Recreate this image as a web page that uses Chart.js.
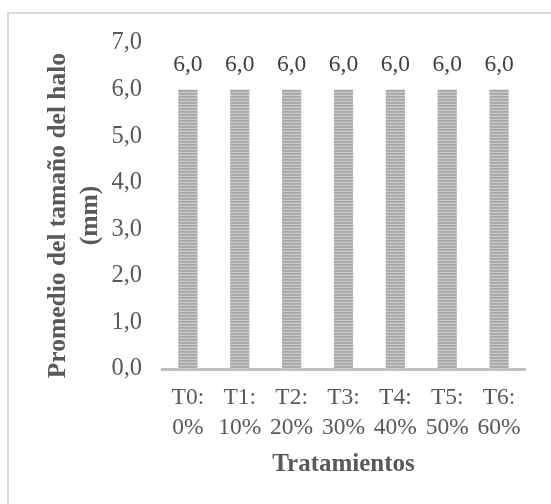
<!DOCTYPE html>
<html>
<head>
<meta charset="utf-8">
<script src="https://cdn.jsdelivr.net/npm/chart.js@4"></script>
<style>
html,body{margin:0;padding:0;background:#fff;}
#wrap{position:relative;width:551px;height:504px;overflow:hidden;}
#frame{position:absolute;left:7px;top:12px;width:600px;height:600px;border:2px solid #d9d9d9;box-sizing:border-box;}
canvas{position:absolute;left:0;top:0;}
</style>
</head>
<body>
<div id="wrap">
<div id="frame"></div>
<canvas id="c" width="551" height="504"></canvas>
</div>
<script>
const categories = [['T0:', '0%'], ['T1:', '10%'], ['T2:', '20%'], ['T3:', '30%'], ['T4:', '40%'], ['T5:', '50%'], ['T6:', '60%']];
const haloValues = [6.0, 6.0, 6.0, 6.0, 6.0, 6.0, 6.0];
const yTickMin = 0;
const yTickMax = 7;
const yTickStep = 1;
const yTitle = ['Promedio del tamaño del halo   ', '(mm)   '];
const xTitle = 'Tratamientos';

function fmt(v){ return Number(v).toFixed(1).replace('.', ','); }

// striped fill pattern
const pc = document.createElement('canvas');
pc.width = 4; pc.height = 3;
const pctx = pc.getContext('2d');
const rows = ['#a6a6a6', '#afafaf', '#cbcbcb'];
rows.forEach((c, i) => { pctx.fillStyle = c; pctx.fillRect(0, i, 4, 1); });
const ctx = document.getElementById('c').getContext('2d');
const pattern = ctx.createPattern(pc, 'repeat');

const labelPlugin = {
  id: 'valueLabels',
  afterDatasetsDraw(chart) {
    const c = chart.ctx;
    const meta = chart.getDatasetMeta(0);
    c.save();
    c.font = '23.5px "Liberation Serif", "Times New Roman", serif';
    c.fillStyle = '#404040';
    c.textAlign = 'center';
    c.textBaseline = 'middle';
    meta.data.forEach((bar, i) => {
      c.fillText(fmt(chart.data.datasets[0].data[i]), bar.x, bar.y - 25);
    });
    c.restore();
  }
};

new Chart(ctx, {
  type: 'bar',
  data: {
    labels: categories,
    datasets: [{
      data: haloValues,
      backgroundColor: pattern,
      borderWidth: 0,
      barPercentage: 0.37,
      categoryPercentage: 1.0
    }]
  },
  options: {
    responsive: false,
    animation: false,
    events: [],
    layout: { padding: { left: 42, right: 26, top: 43, bottom: 20 } },
    plugins: { legend: { display: false }, tooltip: { enabled: false } },
    scales: {
      x: {
        grid: { display: false, drawTicks: false },
        border: { display: true, color: '#bfbfbf', width: 3 },
        ticks: {
          color: '#595959',
          padding: 14,
          maxRotation: 0,
          autoSkip: false,
          font: { family: '"Liberation Serif", "Times New Roman", serif', size: 23.5, lineHeight: 1.28 }
        },
        title: {
          display: true,
          text: xTitle,
          color: '#595959',
          padding: { top: 0, bottom: 4 },
          font: { family: '"Liberation Serif", "Times New Roman", serif', size: 25, weight: 'bold', lineHeight: 1.2 }
        },
        afterFit(scale) { scale.height = 115; }
      },
      y: {
        min: yTickMin,
        max: yTickMax,
        grid: { display: false, drawTicks: false },
        border: { display: false },
        ticks: {
          stepSize: yTickStep,
          color: '#595959',
          padding: 20,
          callback: (v) => fmt(v),
          font: { family: '"Liberation Serif", "Times New Roman", serif', size: 24.5 }
        },
        title: {
          display: true,
          text: yTitle,
          color: '#595959',
          padding: { top: 0, bottom: 0 },
          font: { family: '"Liberation Serif", "Times New Roman", serif', size: 25.5, weight: 'bold', lineHeight: 1.26 }
        },
        afterFit(scale) { scale.width = 120; }
      }
    }
  },
  plugins: [labelPlugin]
});
</script>
</body>
</html>
